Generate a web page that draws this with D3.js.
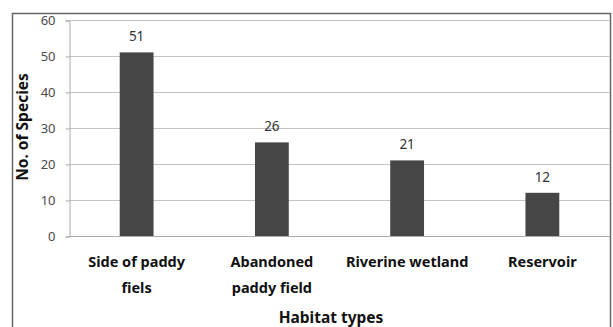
<!DOCTYPE html>
<html>
<head>
<meta charset="utf-8">
<script src="https://cdn.jsdelivr.net/npm/d3@7"></script>
<style>
  html, body { margin: 0; padding: 0; background: #fff; }
  svg { display: block; font-family: "Noto Sans", "DejaVu Sans", sans-serif; }
</style>
</head>
<body>
<svg id="chart" width="613" height="327"></svg>
<script>
// Habitat categories (each entry is the lines of its axis label)
const categories = [
  ["Side of paddy", "fiels"],
  ["Abandoned", "paddy field"],
  ["Riverine wetland"],
  ["Reservoir"]
];
const speciesCounts = [51, 26, 21, 12];
const yTicks = [0, 10, 20, 30, 40, 50, 60];

const svg = d3.select("#chart");
const plot = { left: 69, right: 610, top: 20, bottom: 236 };

// Outer chart frame
svg.append("rect")
  .attr("x", 12.5).attr("y", 13.5)
  .attr("width", 598).attr("height", 330)
  .attr("fill", "none")
  .attr("stroke", "#666").attr("stroke-width", 1.5);

const x = d3.scaleBand()
  .domain(d3.range(categories.length))
  .range([plot.left, plot.right])
  .paddingInner(0.75)
  .paddingOuter(0.375);

const y = d3.scaleLinear().domain([0, 60]).range([plot.bottom, plot.top]);

// Horizontal gridlines
svg.append("g")
  .selectAll("line")
  .data(yTicks.filter(t => t > 0))
  .join("line")
  .attr("x1", plot.left).attr("x2", plot.right)
  .attr("y1", d => Math.round(y(d)) + 0.5).attr("y2", d => Math.round(y(d)) + 0.5)
  .attr("stroke", "#c4c4c4").attr("stroke-width", 1);

// Y axis
const yAxis = svg.append("g")
  .attr("transform", `translate(${plot.left + 0.5},0.5)`)
  .call(d3.axisLeft(y).tickValues(yTicks).tickSize(4).tickPadding(10));
yAxis.select(".domain").attr("stroke", "#aaa");
yAxis.selectAll(".tick line").attr("stroke", "#aaa");
yAxis.selectAll(".tick text")
  .attr("fill", "#4a4a4a").attr("font-size", 13)
  .attr("font-family", "'Noto Sans', 'DejaVu Sans', sans-serif");

// X baseline
svg.append("line")
  .attr("x1", plot.left).attr("x2", plot.right)
  .attr("y1", plot.bottom + 0.5).attr("y2", plot.bottom + 0.5)
  .attr("stroke", "#aaa");

// Bars
svg.append("g")
  .selectAll("rect")
  .data(speciesCounts)
  .join("rect")
  .attr("x", (d, i) => x(i))
  .attr("width", x.bandwidth())
  .attr("y", d => y(d))
  .attr("height", d => y(0) - y(d))
  .attr("fill", "#464646");

// Value labels
svg.append("g")
  .selectAll("text")
  .data(speciesCounts)
  .join("text")
  .attr("x", (d, i) => x(i) + x.bandwidth() / 2)
  .attr("y", d => y(d) - 11)
  .attr("text-anchor", "middle")
  .attr("font-size", 13.5)
  .attr("fill", "#333")
  .text(d => d);

// Category labels
const catG = svg.append("g");
categories.forEach((lines, i) => {
  const t = catG.append("text")
    .attr("x", x(i) + x.bandwidth() / 2)
    .attr("y", 267)
    .attr("text-anchor", "middle")
    .attr("font-size", 14.5)
    .attr("font-weight", "bold")
    .attr("fill", "#111");
  lines.forEach((ln, k) => {
    t.append("tspan")
      .attr("x", x(i) + x.bandwidth() / 2)
      .attr("dy", k === 0 ? 0 : 26)
      .text(ln);
  });
});

// Axis titles
svg.append("text")
  .attr("x", 331).attr("y", 323)
  .attr("text-anchor", "middle")
  .attr("font-size", 15.5).attr("font-weight", "bold").attr("fill", "#111")
  .text("Habitat types");

svg.append("text")
  .attr("transform", "translate(28,127) rotate(-90)")
  .attr("text-anchor", "middle")
  .attr("font-size", 15.5).attr("font-weight", "bold").attr("fill", "#111")
  .text("No. of Species");
</script>
</body>
</html>
